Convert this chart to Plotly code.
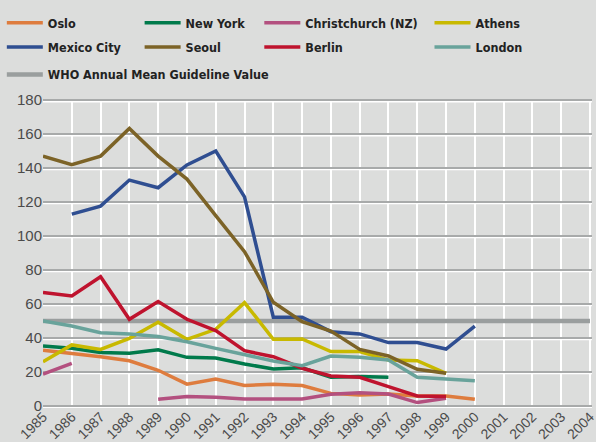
import plotly.graph_objects as go

years = list(range(1985, 2005))

# Annual mean concentrations (µg/m³), None where no measurement
oslo = [32.8, 31, 29, 26.6, 21, 12.8, 15.9, 12, 12.8, 12, 7.4, 6.5, 7, 5.9, 5.9, 3.9]
new_york = [35.3, 33.9, 31.4, 31, 33, 28.6, 28.2, 24.7, 21.8, 22.5, 16.9, 17.3, 16.9]
christchurch = [18.8, 25, None, None, 3.9, 5.5, 5.1, 4.1, 4.1, 4.1, 6.9, 7.8, 7, 2, 4.5]
athens = [26, 35.9, 33.3, 39.8, 49.2, 39.2, 45.1, 60.8, 39.2, 39.4, 32, 32, 27, 26.6, 19.2]
mexico_city = [None, 112.9, 117.6, 132.9, 128.4, 141.8, 150, 123, 52.2, 52.2, 43.7, 42.4, 37.3, 37.3, 33.5, 47]
seoul = [147, 142, 147, 163.3, 147, 133.5, 112, 90.8, 61, 49.6, 44.1, 33.3, 29.4, 21.6, 19.2]
berlin = [66.7, 64.7, 76, 51, 61.4, 51, 44.3, 32.5, 29, 22.2, 17.6, 16.9, 11.4, 5.9, 5.5]
london = [50, 47, 43.1, 42.4, 40.8, 37.8, 33.9, 30, 26.5, 23.7, 29.4, 28.6, 27, 16.9, 15.7, 14.9]
who_guideline = [50] * len(years)

y_ticks = list(range(0, 181, 20))

series = [
    ("Oslo", oslo, "#de7c3e", "legend", 1),
    ("New York", new_york, "#007a4b", "legend2", 1),
    ("Christchurch (NZ)", christchurch, "#b3507f", "legend3", 1),
    ("Athens", athens, "#c8b900", "legend4", 1),
    ("Mexico City", mexico_city, "#2f4e91", "legend", 2),
    ("Seoul", seoul, "#7c6327", "legend2", 2),
    ("Berlin", berlin, "#bf132e", "legend3", 2),
    ("London", london, "#69a39b", "legend4", 2),
]

bg = "#dcdddc"
fig = go.Figure()

fig.add_trace(go.Scatter(
    x=years, y=who_guideline, mode="lines", name="WHO Annual Mean Guideline Value",
    line=dict(color="#9a9e9e", width=4.5), legend="legend5", hoverinfo="skip",
))

for name, vals, color, leg, rank in series:
    fig.add_trace(go.Scatter(
        x=years[:len(vals)], y=vals, mode="lines", name=name,
        line=dict(color=color, width=3.5), legend=leg, legendgroup=name,
        legendrank=rank, connectgaps=False,
    ))

# white highlight under each horizontal grid line
shapes = [
    dict(type="line", xref="paper", x0=0, x1=1, yref="y", y0=v - 0.95, y1=v - 0.95,
         line=dict(color="white", width=1.5), layer="below")
    for v in y_ticks
]
# closing white grid line at the last year
shapes.append(dict(type="line", xref="x", x0=years[-1], x1=years[-1], yref="paper", y0=0, y1=1,
                   line=dict(color="white", width=2), layer="below"))

legend_font = dict(family="Noto Sans Condensed, DejaVu Sans Condensed, sans-serif",
                   size=12.5, color="#222222", weight="bold")

def legend_box(x, y):
    return dict(x=x, y=y, xanchor="left", yanchor="middle", orientation="v",
                bgcolor="rgba(0,0,0,0)", font=legend_font, traceorder="grouped",
                tracegroupgap=5, itemwidth=36, itemclick=False, itemdoubleclick=False)

fig.update_layout(
    width=596, height=442,
    margin=dict(l=43, r=4, t=99, b=34, autoexpand=False),
    paper_bgcolor=bg, plot_bgcolor=bg,
    showlegend=True,
    shapes=shapes,
    legend=legend_box(-0.075, 1.207),
    legend2=legend_box(0.176, 1.207),
    legend3=legend_box(0.394, 1.207),
    legend4=legend_box(0.704, 1.207),
    legend5=legend_box(-0.075, 1.078),
    xaxis=dict(
        range=[1985, 2004.07], tickmode="array", tickvals=years,
        ticktext=[str(y) for y in years], tickangle=-45, automargin=False,
        ticklabeloverflow="allow", ticklabelstandoff=-3,
        showgrid=True, gridcolor="white", gridwidth=2,
        zeroline=False, showline=False, ticks="",
        tickfont=dict(family="Liberation Sans, Arial, sans-serif", size=14, color="#4a4a4a"),
    ),
    yaxis=dict(
        range=[-1.2, 180.6], tickmode="array", tickvals=y_ticks, automargin=False,
        showgrid=True, gridcolor="#a8aaaa", gridwidth=1.5,
        zeroline=False, showline=False, ticks="",
        tickfont=dict(family="Liberation Sans, Arial, sans-serif", size=15, color="#4a4a4a"),
    ),
)

fig.write_html("out.html")
